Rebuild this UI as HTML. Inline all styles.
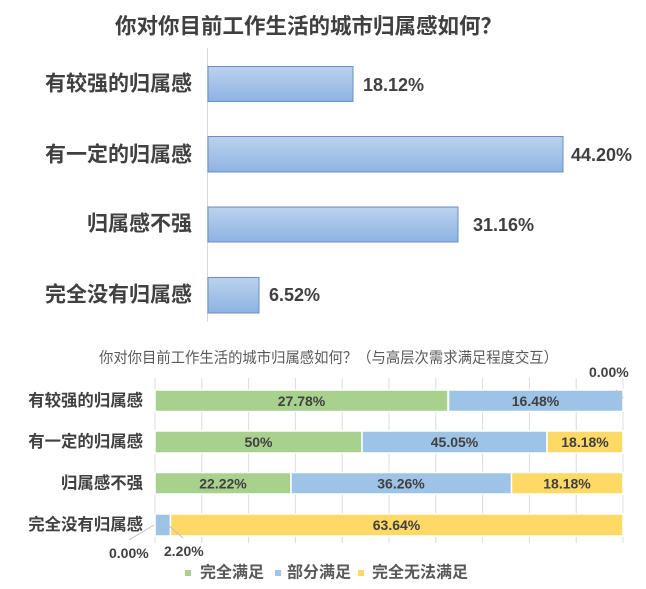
<!DOCTYPE html>
<html>
<head>
<meta charset="utf-8">
<style>
html,body{margin:0;padding:0;background:#fff;}
svg{display:block;}
text{font-family:"Liberation Sans","Noto Sans CJK SC",sans-serif;}
.cjk{font-family:"Noto Sans CJK SC","Liberation Sans",sans-serif;}
</style>
</head>
<body>
<svg width="646" height="589" viewBox="0 0 646 589" xmlns="http://www.w3.org/2000/svg">
<defs>
<linearGradient id="bg" x1="0" y1="0" x2="0" y2="1">
<stop offset="0" stop-color="#bcd2ee"/>
<stop offset="1" stop-color="#8db3e2"/>
</linearGradient>
</defs>
<rect width="646" height="589" fill="#fff"/>

<!-- Top chart -->
<text class="cjk" x="115" y="25" font-size="21.4" font-weight="bold" fill="#404040" dominant-baseline="central" textLength="387" lengthAdjust="spacingAndGlyphs">你对你目前工作生活的城市归属感如何？</text>
<line x1="207.5" y1="48" x2="207.5" y2="322" stroke="#d9d9d9" stroke-width="1"/>

<g font-size="21" font-weight="bold" fill="#404040" text-anchor="end" dominant-baseline="central">
<text x="192" y="84">有较强的归属感</text>
<text x="192" y="155">有一定的归属感</text>
<text x="192" y="224">归属感不强</text>
<text x="192" y="295">完全没有归属感</text>
</g>

<g fill="url(#bg)" stroke="#6a8fc6" stroke-width="1">
<rect x="208" y="66.5" width="145" height="35"/>
<rect x="208" y="136.5" width="355" height="35.5"/>
<rect x="208" y="207" width="250" height="35"/>
<rect x="208" y="277.5" width="51" height="35.5"/>
</g>

<g font-size="18" font-weight="bold" fill="#404040" dominant-baseline="central">
<text x="363" y="85">18.12%</text>
<text x="571" y="155">44.20%</text>
<text x="473" y="225">31.16%</text>
<text x="269" y="295">6.52%</text>
</g>

<!-- Bottom chart -->
<text class="cjk" x="99" y="357" font-size="15" fill="#595959" dominant-baseline="central" textLength="459" lengthAdjust="spacingAndGlyphs">你对你目前工作生活的城市归属感如何？（与高层次需求满足程度交互）</text>

<g stroke="#dcdcdc" stroke-width="1">
<line x1="155" y1="378" x2="155" y2="543"/>
<line x1="201.8" y1="378" x2="201.8" y2="543"/>
<line x1="248.6" y1="378" x2="248.6" y2="543"/>
<line x1="295.4" y1="378" x2="295.4" y2="543"/>
<line x1="342.2" y1="378" x2="342.2" y2="543"/>
<line x1="389" y1="378" x2="389" y2="543"/>
<line x1="435.8" y1="378" x2="435.8" y2="543"/>
<line x1="482.6" y1="378" x2="482.6" y2="543"/>
<line x1="529.4" y1="378" x2="529.4" y2="543"/>
<line x1="576.2" y1="378" x2="576.2" y2="543"/>
<line x1="623" y1="378" x2="623" y2="543"/>
</g>

<g font-size="16.4" font-weight="bold" fill="#404040" text-anchor="end" dominant-baseline="central">
<text x="143" y="401">有较强的归属感</text>
<text x="143" y="442">有一定的归属感</text>
<text x="143" y="483.5">归属感不强</text>
<text x="143" y="525">完全没有归属感</text>
</g>

<g stroke="#fff" stroke-width="1.5">
<rect x="155" y="390" width="293" height="21.5" fill="#a9d18e"/>
<rect x="448.5" y="390" width="174.5" height="21.5" fill="#9dc3e6"/>
<rect x="155" y="431" width="207" height="22" fill="#a9d18e"/>
<rect x="362" y="431" width="185" height="22" fill="#9dc3e6"/>
<rect x="547" y="431" width="76" height="22" fill="#ffd966"/>
<rect x="155" y="472.5" width="136" height="21.5" fill="#a9d18e"/>
<rect x="291" y="472.5" width="220.5" height="21.5" fill="#9dc3e6"/>
<rect x="511.5" y="472.5" width="111.5" height="21.5" fill="#ffd966"/>
<rect x="155" y="514" width="15.5" height="22" fill="#9dc3e6"/>
<rect x="170.5" y="514" width="452.5" height="22" fill="#ffd966"/>
</g>

<g font-size="14" font-weight="bold" fill="#404040" text-anchor="middle" dominant-baseline="central">
<text x="301.5" y="401">27.78%</text>
<text x="535.5" y="401">16.48%</text>
<text x="258.5" y="442">50%</text>
<text x="454.5" y="442">45.05%</text>
<text x="585" y="442">18.18%</text>
<text x="223" y="483.5">22.22%</text>
<text x="401" y="483.5">36.26%</text>
<text x="567" y="483.5">18.18%</text>
<text x="396.5" y="525">63.64%</text>
</g>

<g stroke="#bfbfbf" stroke-width="1">
<line x1="616" y1="390" x2="623" y2="398"/>
<line x1="129" y1="540" x2="154" y2="525"/>
<line x1="168" y1="525" x2="183" y2="538"/>
</g>
<g font-size="14" font-weight="bold" fill="#404040" dominant-baseline="central">
<text x="589" y="372">0.00%</text>
<text x="109" y="553">0.00%</text>
<text x="164" y="551">2.20%</text>
</g>

<!-- Legend -->
<rect x="185" y="570" width="6" height="6" fill="#a9d18e"/>
<rect x="275" y="570" width="6" height="6" fill="#9dc3e6"/>
<rect x="358" y="570" width="6" height="6" fill="#ffd966"/>
<g font-size="16" font-weight="bold" fill="#595959" dominant-baseline="central">
<text x="200" y="573">完全满足</text>
<text x="287" y="573">部分满足</text>
<text x="372" y="573">完全无法满足</text>
</g>
</svg>
</body>
</html>
